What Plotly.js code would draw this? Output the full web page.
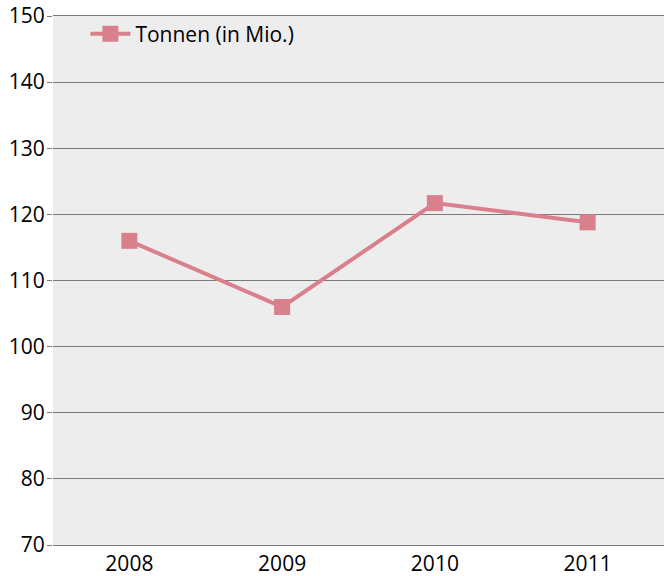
<!DOCTYPE html>
<html>
<head>
<meta charset="utf-8">
<script src="https://cdn.plot.ly/plotly-3.0.1.min.js"></script>
<style>html,body{margin:0;padding:0;background:#fff;}#chart{width:664px;height:576px;}</style>
</head>
<body>
<div id="chart"></div>
<script>
const years = ["2008", "2009", "2010", "2011"];
const tonnen = [116.0, 106.0, 121.7, 118.8];
const seriesName = "Tonnen (in Mio.)";
const yTicks = [70, 80, 90, 100, 110, 120, 130, 140, 150];

const trace = {
  type: "scatter",
  mode: "lines+markers",
  x: years,
  y: tonnen,
  name: seriesName,
  line: {color: "#d9808c", width: 4},
  marker: {symbol: "square", size: 16, color: "#d9808c"},
  showlegend: true
};

const layout = {
  width: 664,
  height: 576,
  margin: {l: 53, r: 0, t: 16, b: 31},
  paper_bgcolor: "#ffffff",
  plot_bgcolor: "#ededed",
  font: {family: "Open Sans, sans-serif", size: 21, color: "#000000"},
  showlegend: true,
  legend: {
    x: 0.053, xanchor: "left",
    y: 0.966, yanchor: "middle",
    bgcolor: "rgba(0,0,0,0)",
    borderwidth: 0,
    itemwidth: 40,
    font: {size: 21, color: "#000000"}
  },
  xaxis: {
    type: "category",
    range: [-0.5, 3.5],
    showgrid: false,
    zeroline: false,
    showline: true,
    mirror: true,
    linecolor: "#7a7a7a",
    linewidth: 1,
    ticks: "",
    ticklabelstandoff: 0,
    tickfont: {size: 21},
    fixedrange: true
  },
  yaxis: {
    range: [70, 150],
    tickvals: yTicks,
    ticktext: yTicks.map(String),
    showgrid: true,
    gridcolor: "#7a7a7a",
    gridwidth: 1,
    zeroline: false,
    showline: false,
    ticks: "outside",
    ticklen: 5,
    tickcolor: "#7a7a7a",
    tickwidth: 1,
    ticklabelstandoff: -2,
    tickfont: {size: 21},
    fixedrange: true
  }
};

Plotly.newPlot("chart", [trace], layout, {displayModeBar: false, staticPlot: true});
</script>
</body>
</html>
